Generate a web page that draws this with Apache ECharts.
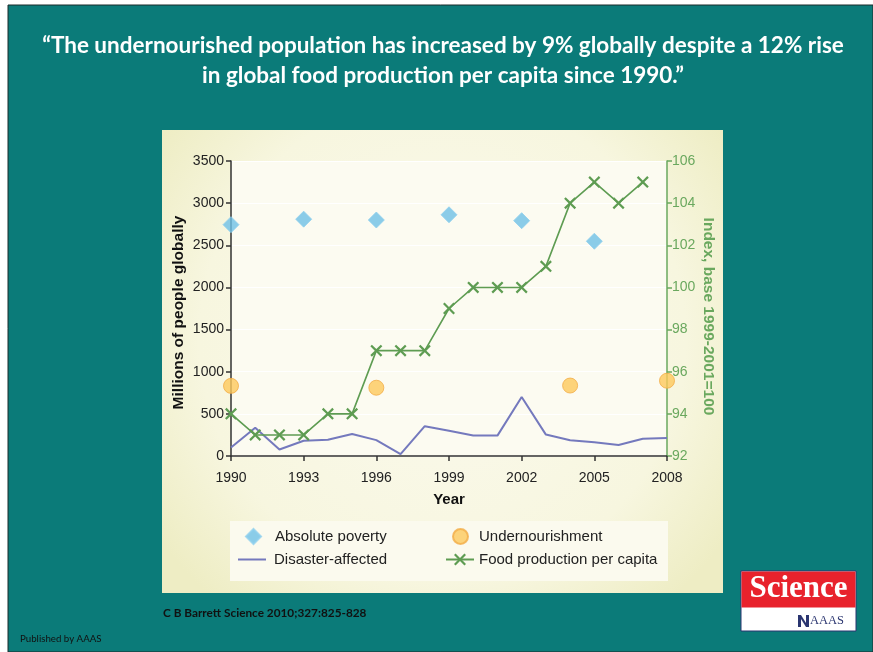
<!DOCTYPE html>
<html><head><meta charset="utf-8">
<script src="https://cdn.jsdelivr.net/npm/echarts@6/dist/echarts.min.js"></script>
<style>html,body{margin:0;padding:0;background:#fff;}#c{width:873px;height:652px;}</style>
</head><body><div id="c"></div>
<script>
// ---- data ----
const years = ['1990','1991','1992','1993','1994','1995','1996','1997','1998','1999','2000','2001','2002','2003','2004','2005','2006','2007','2008'];
const xTickLabels = ['1990','1993','1996','1999','2002','2005','2008'];
const povertyYears = ['1990','1993','1996','1999','2002','2005'];
const povertyValues = [2745, 2810, 2800, 2862, 2792, 2548];
const underYears = ['1990','1996','2004','2008'];
const underValues = [832, 810, 836, 893];
const disasterValues = [100, 335, 77, 181, 192, 262, 188, 23, 354, 300, 242, 242, 700, 254, 188, 162, 131, 204, 215];
const foodValues = [94, 93, 93, 93, 94, 94, 97, 97, 97, 99, 100, 100, 100, 101, 104, 105, 104, 105, null];
const leftTicks = [0, 3500, 500];
const rightTicks = [92, 106, 2];

const titleLines = ['\u201CThe undernourished population has increased by 9% globally despite a 12% rise', 'in global food production per capita since 1990.\u201D'];
const caption = 'C B Barrett Science 2010;327:825-828';

const chart = echarts.init(document.getElementById('c'));
const FONT = '"Liberation Sans", Arial, sans-serif';
const GREEN = '#5e9c52';
const GREEN_T = '#6aa85e';
const xPath = 'path://M0,1.3L1.3,0L5,3.7L8.7,0L10,1.3L6.3,5L10,8.7L8.7,10L5,6.3L1.3,10L0,8.7L3.7,5Z';
const isTick = (i, v) => xTickLabels.includes(years[i]);
const legendText = (pad) => ({ fontFamily: FONT, fontSize: 15, color: '#222', padding: [0, 0, 0, pad] });

chart.setOption({
  animation: false,
  backgroundColor: '#ffffff',
  graphic: [
    { type: 'rect', shape: { x: 8, y: 5, width: 865, height: 647 }, style: { fill: '#0b7b79', stroke: '#1b2b2b', lineWidth: 1 }, z: -10 },
    { type: 'rect', shape: { x: 162, y: 130, width: 561, height: 463 },
      style: { fill: new echarts.graphic.RadialGradient(0.5, 0.45, 0.75, [
        { offset: 0, color: '#fbfaee' }, { offset: 0.7, color: '#f7f6df' }, { offset: 1, color: '#eeedc4' }]) }, z: -9 },
    { type: 'rect', shape: { x: 230, y: 521, width: 438, height: 60 }, style: { fill: '#fbfaee' }, z: -8 },
    { type: 'text', x: 443, y: 34, style: { text: titleLines[0], fill: '#ffffff', font: 'bold 22.5px Lato, "Open Sans", sans-serif', textAlign: 'center' } },
    { type: 'text', x: 443, y: 64, style: { text: titleLines[1], fill: '#ffffff', font: 'bold 22.5px Lato, "Open Sans", sans-serif', textAlign: 'center' } },
    { type: 'text', left: 163, top: 607, style: { text: caption, fill: '#111', font: 'bold 11.8px Lato, sans-serif' } },
    { type: 'text', left: 20, top: 634, style: { text: 'Published by AAAS', fill: '#111', font: '9.7px Lato, sans-serif' } },
    { type: 'rect', shape: { x: 741, y: 571, width: 115, height: 60 }, style: { fill: '#ffffff', stroke: '#2a3570', lineWidth: 1 } },
    { type: 'rect', shape: { x: 741.5, y: 571.5, width: 114, height: 36 }, style: { fill: '#e8222c' } },
    { type: 'text', x: 798.5, y: 589, style: { text: 'Science', fill: '#ffffff', font: 'bold 31px "Liberation Serif", "DejaVu Serif", serif', textAlign: 'center', textVerticalAlign: 'middle' } },
    { type: 'polygon', shape: { points: [[798, 627], [798, 615], [801, 615], [806, 623], [806, 615], [809, 615], [809, 627], [806, 627], [801, 619], [801, 627]] }, style: { fill: '#2a3570' } },
    { type: 'text', x: 810, y: 621, style: { text: 'AAAS', fill: '#2a3570', font: '12.5px "Liberation Serif", serif', textVerticalAlign: 'middle' } }
  ],
  grid: { left: 231, right: 206, top: 161, bottom: 196, show: true, backgroundColor: '#fcfbf1', borderWidth: 0 },
  legend: [
    { left: 245, top: 528, padding: 0, itemWidth: 15, itemHeight: 15,
      data: ['Absolute poverty'], textStyle: legendText(9) },
    { left: 238, top: 552, padding: 0, itemWidth: 28, itemHeight: 15,
      data: [{ name: 'Disaster-affected', icon: 'path://M0,0L28,0L28,2L0,2Z' }], textStyle: legendText(3) },
    { left: 452, top: 528, padding: 0, itemWidth: 15, itemHeight: 15,
      data: ['Undernourishment'], textStyle: legendText(6) },
    { left: 445, top: 552, padding: 0, itemWidth: 28, itemHeight: 15,
      data: ['Food production per capita'], textStyle: legendText(0) }
  ],
  xAxis: {
    type: 'category', data: years, boundaryGap: false,
    name: 'Year', nameLocation: 'middle', nameGap: 36,
    nameTextStyle: { fontFamily: FONT, fontWeight: 'bold', fontSize: 15, color: '#111' },
    axisLine: { lineStyle: { color: '#333', width: 1.5 } },
    axisTick: { interval: isTick, length: 5, lineStyle: { color: '#333', width: 1.5 } },
    axisLabel: { interval: isTick, margin: 15, fontFamily: FONT, fontSize: 14, color: '#222' },
    splitLine: { show: false }
  },
  yAxis: [
    { type: 'value', min: leftTicks[0], max: leftTicks[1], interval: leftTicks[2],
      name: 'Millions of people globally', nameLocation: 'middle', nameGap: 44, nameRotate: 90,
      nameTextStyle: { fontFamily: FONT, fontWeight: 'bold', fontSize: 15.5, color: '#111', padding: [0, 8, 0, 0] },
      axisLine: { show: true, lineStyle: { color: '#333', width: 1.5 } },
      axisTick: { show: true, length: 5, lineStyle: { color: '#333', width: 1.5 } },
      axisLabel: { margin: 7, fontFamily: FONT, fontSize: 14, color: '#222', formatter: (v) => String(v) },
      splitLine: { show: true, lineStyle: { color: '#ffffff', width: 1 } } },
    { type: 'value', min: rightTicks[0], max: rightTicks[1], interval: rightTicks[2], position: 'right',
      name: 'Index, base 1999-2001=100', nameLocation: 'middle', nameGap: 33, nameRotate: -90,
      nameTextStyle: { fontFamily: FONT, fontWeight: 'bold', fontSize: 15.5, color: GREEN_T, padding: [0, 0, 0, 16] },
      axisLine: { show: true, lineStyle: { color: GREEN_T, width: 1.5 } },
      axisTick: { show: true, length: 5, lineStyle: { color: GREEN_T, width: 1.5 } },
      axisLabel: { margin: 5, fontFamily: FONT, fontSize: 14, color: GREEN_T, formatter: (v) => String(v) },
      splitLine: { show: false } }
  ],
  series: [
    { name: 'Disaster-affected', type: 'line', data: disasterValues, symbol: 'none',
      lineStyle: { color: '#7479bd', width: 2 }, itemStyle: { color: '#7479bd' }, z: 2 },
    { name: 'Food production per capita', type: 'line', yAxisIndex: 1, data: foodValues,
      symbol: xPath, symbolSize: 12, showSymbol: true,
      lineStyle: { color: GREEN, width: 1.6 }, itemStyle: { color: GREEN }, z: 3 },
    { name: 'Absolute poverty', type: 'scatter', symbol: 'diamond', symbolSize: 16,
      data: povertyYears.map((y, i) => [y, povertyValues[i]]),
      itemStyle: { color: '#6ec1e6', borderColor: '#8fd0ee', borderWidth: 1 }, z: 4 },
    { name: 'Undernourishment', type: 'scatter', symbol: 'circle', symbolSize: 15,
      data: underYears.map((y, i) => [y, underValues[i]]),
      itemStyle: { color: '#fcc95c', borderColor: '#f3ad46', borderWidth: 1 }, z: 4 }
  ]
});
</script></body></html>
